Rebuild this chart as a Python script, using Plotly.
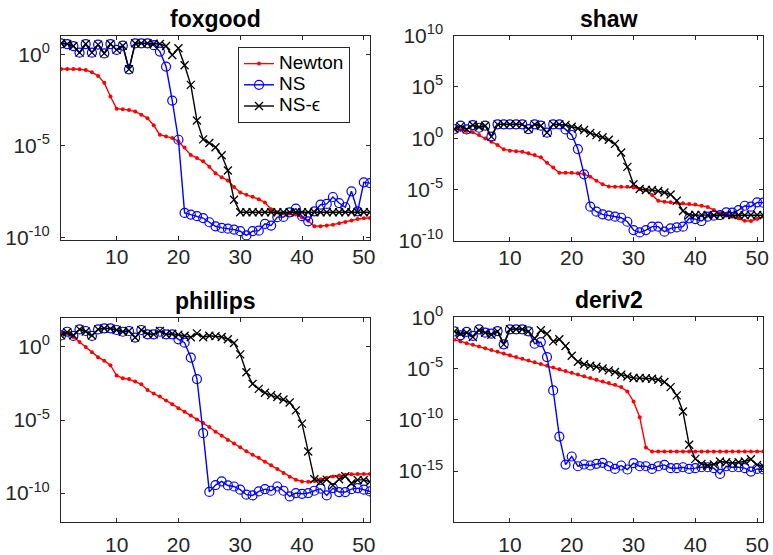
import plotly.graph_objects as go

# iteration index shared by all panels
iters = list(range(1, 52))

# log10 of the error per iteration, one list per method and test problem
foxgood_newton = [-0.80, -0.80, -0.81, -0.82, -0.86, -0.98, -1.18, -1.56, -2.31, -2.97,
                  -3.00, -3.04, -3.12, -3.30, -3.50, -3.88, -4.40, -4.49, -4.58, -4.75,
                  -5.10, -5.50, -5.67, -5.85, -6.15, -6.50, -6.72, -6.90, -7.25, -7.55,
                  -7.68, -7.78, -7.92, -8.10, -8.47, -8.65, -8.69, -8.70, -8.76, -8.92,
                  -9.10, -9.40, -9.40, -9.36, -9.31, -9.23, -9.17, -9.08, -9.00, -8.96,
                  -8.95]
foxgood_ns = [0.60, 0.56, 0.45, 0.09, 0.56, 0.09, 0.53, 0.05, 0.56, 0.24,
              0.47, -0.82, 0.60, 0.60, 0.60, 0.50, 0.15, -0.67, -2.53, -4.67,
              -8.67, -8.76, -8.85, -8.95, -9.18, -9.40, -9.49, -9.53, -9.58, -9.67,
              -9.90, -9.67, -9.64, -9.27, -9.36, -8.90, -8.89, -8.64, -8.44, -8.85,
              -9.13, -8.58, -8.22, -8.18, -7.80, -8.13, -8.36, -7.49, -8.58, -7.00,
              -7.04]
foxgood_nse = [0.60, 0.56, 0.45, 0.09, 0.56, 0.09, 0.53, 0.05, 0.56, 0.24,
               0.47, -0.82, 0.60, 0.60, 0.60, 0.58, 0.56, 0.45, -0.04, 0.33,
               -0.60, -1.67, -3.62, -4.65, -4.85, -5.08, -5.52, -6.35, -7.95, -8.63,
               -8.63, -8.63, -8.63, -8.63, -8.63, -8.63, -8.63, -8.63, -8.63, -8.63,
               -8.63, -8.63, -8.63, -8.63, -8.63, -8.63, -8.63, -8.63, -8.63, -8.63,
               -8.63]

shaw_newton = [0.86, 0.80, 0.70, 0.57, 0.31, -0.02, -0.34, -0.67, -1.09, -1.22,
               -1.28, -1.32, -1.48, -1.64, -1.87, -2.39, -2.85, -3.37, -3.37, -3.37,
               -3.43, -3.50, -3.76, -4.15, -4.50, -4.70, -4.73, -4.73, -4.73, -4.80,
               -4.95, -5.05, -5.54, -6.10, -6.20, -6.26, -6.29, -6.35, -6.41, -6.46,
               -6.59, -6.70, -7.01, -7.33, -7.50, -7.66, -7.82, -8.05, -8.08, -7.89,
               -7.66]
shaw_ns = [0.89, 1.22, 0.86, 1.28, 1.02, 1.22, 0.15, 1.35, 1.35, 1.35,
           1.35, 1.35, 0.89, 1.35, 1.22, 0.54, 1.35, 1.35, 0.86, 0.31,
           -1.06, -3.52, -6.68, -7.17, -7.43, -7.55, -7.66, -7.76, -8.15, -8.96,
           -9.19, -8.96, -8.63, -8.63, -9.12, -8.80, -8.70, -8.63, -7.82, -7.89,
           -8.08, -7.66, -7.56, -7.50, -7.24, -7.27, -7.01, -6.59, -6.68, -6.26,
           -6.29]
shaw_nse = [0.89, 1.15, 0.86, 1.28, 1.10, 1.22, 0.15, 1.35, 1.35, 1.35,
            1.35, 1.35, 0.89, 1.35, 1.22, 0.54, 1.35, 1.35, 1.30, 1.12,
            0.95, 0.80, 0.50, 0.30, 0.10, -0.15, -0.55, -1.40, -2.80, -4.50,
            -4.95, -5.05, -5.05, -5.15, -5.30, -5.50, -6.10, -7.10, -7.50, -7.50,
            -7.48, -7.50, -7.52, -7.50, -7.48, -7.50, -7.50, -7.52, -7.50, -7.50,
            -7.52]

phillips_newton = [0.99, 0.90, 0.68, 0.33, -0.01, -0.37, -0.70, -0.94, -1.25, -1.96,
                   -2.14, -2.20, -2.37, -2.56, -2.95, -3.18, -3.40, -3.66, -3.92, -4.20,
                   -4.44, -4.70, -4.96, -5.21, -5.48, -5.80, -6.07, -6.37, -6.60, -6.86,
                   -7.14, -7.37, -7.59, -7.85, -8.10, -8.36, -8.62, -8.89, -9.09, -9.20,
                   -9.22, -9.17, -9.05, -8.95, -8.87, -8.80, -8.74, -8.71, -8.70, -8.69,
                   -8.69]
phillips_ns = [0.79, 1.04, 0.75, 1.20, 1.09, 0.75, 1.20, 1.27, 1.27, 1.16,
               1.04, 1.09, 0.64, 1.16, 0.86, 0.86, 1.04, 0.86, 0.86, 0.52,
               0.29, -0.73, -2.20, -5.90, -9.92, -9.45, -9.20, -9.48, -9.55, -9.77,
               -10.11, -10.16, -9.89, -9.73, -9.84, -9.55, -9.84, -10.23, -10.00, -10.05,
               -10.00, -9.84, -9.70, -10.16, -9.66, -9.93, -9.93, -9.73, -9.66, -9.77,
               -9.89]
phillips_nse = [0.79, 1.00, 0.80, 1.20, 1.05, 0.78, 1.20, 1.27, 1.25, 1.16,
                1.04, 1.09, 0.64, 1.16, 0.90, 0.86, 1.10, 0.86, 0.90, 0.84,
                0.77, 0.66, 0.93, 0.66, 0.77, 0.74, 0.68, 0.53, 0.27, -0.51,
                -1.73, -2.53, -2.87, -3.14, -3.30, -3.43, -3.60, -3.80, -4.34, -5.25,
                -7.15, -9.06, -9.23, -9.08, -9.46, -9.06, -8.85, -9.33, -9.10, -9.10,
                -9.23]

deriv2_newton = [-2.18, -2.35, -2.52, -2.69, -2.86, -3.03, -3.20, -3.37, -3.54, -3.71,
                 -3.88, -4.05, -4.22, -4.39, -4.56, -4.73, -4.90, -5.07, -5.24, -5.41,
                 -5.58, -5.75, -5.92, -6.09, -6.26, -6.40, -6.58, -6.81, -7.23, -8.21,
                 -9.74, -12.70, -13.10, -13.10, -13.10, -13.10, -13.10, -13.10, -13.10, -13.10,
                 -13.10, -13.10, -13.10, -13.10, -13.10, -13.10, -13.10, -13.10, -13.10, -13.10,
                 -13.10]
deriv2_ns = [-1.37, -1.76, -1.43, -1.82, -1.17, -1.50, -1.60, -1.34, -2.64, -1.17,
             -1.17, -1.17, -1.37, -2.58, -2.42, -3.88, -7.13, -11.64, -14.37, -13.58,
             -14.53, -14.36, -14.46, -14.30, -14.20, -14.53, -14.79, -14.46, -14.85, -14.23,
             -14.53, -14.53, -14.79, -14.53, -14.40, -14.72, -14.72, -14.63, -14.79, -14.72,
             -14.63, -14.63, -14.72, -15.28, -14.53, -14.63, -14.63, -14.72, -15.05, -14.79,
             -14.85]
deriv2_nse = [-1.37, -1.60, -1.50, -1.92, -1.27, -1.50, -1.70, -1.37, -2.64, -1.17,
              -1.17, -1.17, -1.37, -2.08, -1.27, -1.60, -2.35, -2.14, -2.80, -3.75,
              -4.33, -4.58, -4.72, -4.82, -5.00, -5.18, -5.34, -5.60, -5.77, -5.93,
              -5.93, -5.95, -5.99, -6.09, -6.32, -6.81, -7.62, -9.19, -12.44, -13.81,
              -14.30, -14.46, -14.35, -14.07, -14.14, -14.20, -14.14, -14.07, -13.85, -14.40,
              -14.53]

panels = [
    ("foxgood", foxgood_newton, foxgood_ns, foxgood_nse),
    ("shaw", shaw_newton, shaw_ns, shaw_nse),
    ("phillips", phillips_newton, phillips_ns, phillips_nse),
    ("deriv2", deriv2_newton, deriv2_ns, deriv2_nse),
]

# y-axis ranges (log10) and labelled decades per panel
y_ranges = [(-10.15, 1.0), (-10, 10), (-12, 2), (-20, 0)]
y_ticks = [[-10, -5, 0], [-10, -5, 0, 5, 10], [-10, -5, 0], [-15, -10, -5, 0]]
x_ticks = [10, 20, 30, 40, 50]

W, H = 773, 555
# plot-area boxes in pixels: (left, right, top, bottom)
boxes = [(61, 370, 36, 240), (454.3, 763.3, 35.7, 240.7),
         (61, 370, 317.7, 522.3), (454.3, 763.3, 317.3, 522.3)]

FONT = "Liberation Sans, Arial, sans-serif"
AX_COL = "#262626"
TICK_SIZE = 21
LEGEND_TEXT = '<span style="font-size:19px">%s</span>'

fig = go.Figure()
layout = dict(
    width=W, height=H,
    margin=dict(l=0, r=0, t=0, b=0, autoexpand=False),
    paper_bgcolor="white", plot_bgcolor="white",
    font=dict(family=FONT, color=AX_COL, size=TICK_SIZE),
    showlegend=True,
    legend=dict(x=238 / W, y=1 - 47 / H, xanchor="left", yanchor="top",
                bgcolor="white", bordercolor="#262626", borderwidth=1,
                font=dict(family=FONT, size=14, color="black"),
                itemwidth=30, tracegroupgap=0),
    annotations=[],
)

series_style = [
    ("Newton", "#ff0000", dict(symbol="circle", size=4, color="#ff0000")),
    ("NS", "#0000ff", dict(symbol="circle-open", size=9, color="#0000ff",
                           line=dict(width=1.2, color="#0000ff"))),
    ("NS-ϵ", "#000000", dict(symbol="x-thin", size=8, color="#000000",
                             line=dict(width=1.3, color="#000000"))),
]

for i, (name, newton, ns, nse) in enumerate(panels):
    k = "" if i == 0 else str(i + 1)
    left, right, top, bottom = boxes[i]
    xdom = [left / W, right / W]
    ydom = [1 - bottom / H, 1 - top / H]
    for (label, col, mk), vals in zip(series_style, (newton, ns, nse)):
        fig.add_trace(go.Scatter(
            x=iters, y=[10 ** v for v in vals], mode="lines+markers",
            name=LEGEND_TEXT % label, line=dict(color=col, width=1.4), marker=mk,
            showlegend=(i == 0), xaxis="x" + k, yaxis="y" + k,
        ))
    standoff = -2 if i < 2 else 3
    layout["xaxis" + k] = dict(
        domain=xdom, anchor="y" + k, range=[1, 51], automargin=False,
        tickvals=x_ticks, ticks="inside", ticklen=4, tickcolor=AX_COL,
        showline=True, linecolor=AX_COL, linewidth=1, mirror="ticks",
        showgrid=False, zeroline=False, ticklabelstandoff=standoff,
        tickfont=dict(size=TICK_SIZE, color=AX_COL, family=FONT),
    )
    lo, hi = y_ranges[i]
    layout["yaxis" + k] = dict(
        domain=ydom, anchor="x" + k, type="log", range=[lo, hi], automargin=False,
        tickvals=[10 ** t for t in y_ticks[i]],
        ticktext=["10<sup>%d</sup>" % t for t in y_ticks[i]],
        ticks="inside", ticklen=4, tickcolor=AX_COL,
        showline=True, linecolor=AX_COL, linewidth=1, mirror="ticks",
        showgrid=False, zeroline=False, ticklabelstandoff=6,
        tickfont=dict(size=TICK_SIZE, color=AX_COL, family=FONT),
    )
    layout["annotations"].append(dict(
        text="<b>%s</b>" % name, x=(xdom[0] + xdom[1]) / 2, y=ydom[1],
        xref="paper", yref="paper", xanchor="center", yanchor="bottom",
        yshift=2, showarrow=False,
        font=dict(family=FONT, size=23, color="black"),
    ))

fig.update_layout(**layout)
fig.write_html("out.html")
